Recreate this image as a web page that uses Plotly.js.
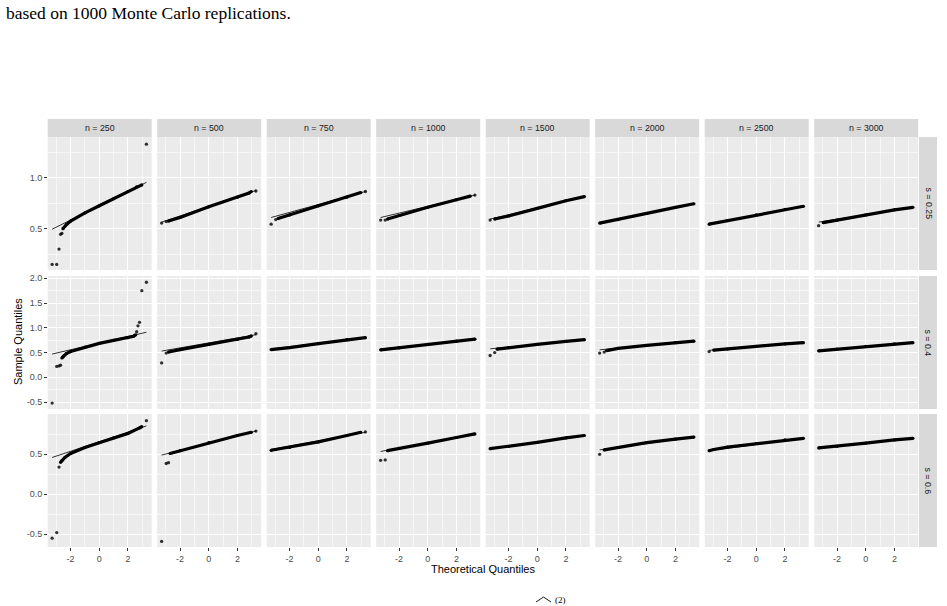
<!DOCTYPE html>
<html>
<head>
<meta charset="utf-8">
<script src="https://cdn.plot.ly/plotly-3.0.1.min.js"></script>
<style>
  html, body { margin: 0; padding: 0; background: #ffffff; }
  #chart { width: 947px; height: 606px; }
</style>
</head>
<body>
<div id="chart"></div>
<script>
// Facet labels
const nLabels = ['n = 250', 'n = 500', 'n = 750', 'n = 1000', 'n = 1500', 'n = 2000', 'n = 2500', 'n = 3000'];
const sLabels = ['s = 0.25', 's = 0.4', 's = 0.6'];

// Tick labels
const xTickVals = [-2, 0, 2];
const xTickText = ['-2', '0', '2'];
const yTickVals = [[0.5, 1.0], [-0.5, 0.0, 0.5, 1.0, 1.5, 2.0], [-0.5, 0.0, 0.5]];
const yTickText = [['0.5', '1.0'], ['-0.5', '0.0', '0.5', '1.0', '1.5', '2.0'], ['-0.5', '0.0', '0.5']];

// Theoretical-quantile span of the reference lines
const lineX = [-3.29, 3.29];

// s = 0.25: dense part of each Q-Q curve [theoretical, sample]
const body_s025 = [
  [[-2.54, 0.50], [-2.3, 0.54], [-2, 0.575], [-1, 0.655], [0, 0.725], [1, 0.795], [2, 0.865], [2.6, 0.91], [2.97, 0.93]],
  [[-2.81, 0.575], [-2, 0.61], [0, 0.715], [2, 0.81], [2.81, 0.85], [2.97, 0.865]],
  [[-2.81, 0.60], [-2, 0.635], [0, 0.725], [2, 0.81], [2.97, 0.855]],
  [[-2.81, 0.595], [-2, 0.63], [0, 0.71], [2, 0.785], [2.97, 0.82]],
  [[-2.97, 0.595], [-2, 0.625], [0, 0.70], [2, 0.775], [3.29, 0.815]],
  [[-3.29, 0.555], [-2, 0.59], [0, 0.65], [2, 0.71], [3.29, 0.745]],
  [[-3.29, 0.545], [-2, 0.58], [0, 0.635], [2, 0.69], [3.29, 0.72]],
  [[-2.97, 0.56], [-2, 0.585], [0, 0.635], [2, 0.685], [3.29, 0.71]]
];
// s = 0.25: isolated extreme quantiles
const tail_s025 = [
  [[-3.29, 0.15], [-2.97, 0.15], [-2.81, 0.30], [-2.70, 0.445], [-2.61, 0.455], [3.29, 1.33]],
  [[-3.29, 0.555], [-2.97, 0.57], [3.29, 0.87]],
  [[-3.29, 0.545], [-2.97, 0.59], [3.29, 0.865]],
  [[-3.29, 0.585], [-2.97, 0.585], [3.29, 0.83]],
  [[-3.29, 0.585]],
  [],
  [],
  [[-3.29, 0.53]]
];
// s = 0.25: reference line values at lineX
const line_s025 = [
  [0.495, 0.955], [0.565, 0.875], [0.61, 0.865], [0.61, 0.83],
  [0.595, 0.815], [0.555, 0.745], [0.545, 0.72], [0.565, 0.71]
];

// s = 0.4
const body_s04 = [
  [[-2.61, 0.39], [-2.5, 0.43], [-2.3, 0.48], [-2, 0.52], [-1, 0.61], [0, 0.685], [1, 0.745], [2, 0.80], [2.4, 0.83], [2.54, 0.86]],
  [[-2.81, 0.51], [-2, 0.56], [0, 0.665], [2, 0.765], [2.81, 0.815], [2.97, 0.835]],
  [[-3.29, 0.56], [-2, 0.60], [0, 0.68], [2, 0.76], [3.29, 0.80]],
  [[-3.29, 0.555], [-2, 0.595], [0, 0.665], [2, 0.73], [3.29, 0.77]],
  [[-2.81, 0.57], [-2, 0.60], [0, 0.665], [2, 0.725], [3.29, 0.76]],
  [[-2.81, 0.54], [-2, 0.585], [0, 0.645], [2, 0.70], [3.29, 0.73]],
  [[-2.97, 0.55], [-2, 0.57], [0, 0.625], [2, 0.675], [3.29, 0.70]],
  [[-3.29, 0.535], [-2, 0.57], [0, 0.625], [2, 0.675], [3.29, 0.70]]
];
const tail_s04 = [
  [[-3.29, -0.52], [-2.97, 0.22], [-2.81, 0.23], [-2.70, 0.245], [2.61, 0.92], [2.70, 1.04], [2.81, 1.11], [2.97, 1.75], [3.29, 1.92]],
  [[-3.29, 0.29], [-2.97, 0.49], [3.29, 0.88]],
  [],
  [],
  [[-3.29, 0.44], [-2.97, 0.50]],
  [[-3.29, 0.49], [-2.97, 0.51]],
  [[-3.29, 0.52]],
  []
];
const line_s04 = [
  [0.47, 0.91], [0.53, 0.86], [0.575, 0.80], [0.57, 0.77],
  [0.575, 0.76], [0.555, 0.735], [0.545, 0.705], [0.545, 0.70]
];

// s = 0.6
const body_s06 = [
  [[-2.70, 0.40], [-2.61, 0.42], [-2.4, 0.46], [-2, 0.51], [-1, 0.585], [0, 0.645], [1, 0.705], [2, 0.76], [2.81, 0.83], [2.97, 0.845]],
  [[-2.70, 0.51], [-2, 0.545], [0, 0.645], [2, 0.735], [2.97, 0.775]],
  [[-3.29, 0.55], [-2.97, 0.56], [-2, 0.585], [0, 0.655], [2, 0.735], [2.97, 0.775]],
  [[-2.81, 0.545], [-2, 0.575], [0, 0.64], [2, 0.71], [3.29, 0.755]],
  [[-3.29, 0.57], [-2, 0.60], [0, 0.65], [2, 0.705], [3.29, 0.735]],
  [[-2.97, 0.555], [-2, 0.585], [0, 0.645], [2, 0.69], [3.29, 0.715]],
  [[-3.29, 0.545], [-2.97, 0.56], [-2, 0.59], [0, 0.635], [2, 0.68], [3.29, 0.70]],
  [[-3.29, 0.58], [-2, 0.60], [0, 0.64], [2, 0.68], [3.29, 0.70]]
];
const tail_s06 = [
  [[-3.29, -0.55], [-2.97, -0.48], [-2.81, 0.34], [3.29, 0.92]],
  [[-3.29, -0.59], [-2.97, 0.385], [-2.81, 0.395], [3.29, 0.79]],
  [[3.29, 0.78]],
  [[-3.29, 0.425], [-2.97, 0.43]],
  [],
  [[-3.29, 0.50]],
  [],
  []
];
const line_s06 = [
  [0.46, 0.855], [0.49, 0.79], [0.56, 0.775], [0.535, 0.755],
  [0.57, 0.735], [0.555, 0.715], [0.545, 0.70], [0.58, 0.70]
];

// Y-axis range of each row of panels
const yRanges = [[0.095, 1.40], [-0.64, 2.046], [-0.66, 1.004]];

const rows = [
  { body: body_s025, tail: tail_s025, line: line_s025 },
  { body: body_s04, tail: tail_s04, line: line_s04 },
  { body: body_s06, tail: tail_s06, line: line_s06 }
];

// ---- geometry (pixels of the 947 x 606 page) ----
const W = 947, H = 606;
const fx = v => v / W;
const fy = v => 1 - v / H;
const colLeft = c => 47.7 + 109.5 * c;
const colW = 104;
const rowBox = [[137, 270], [276, 409], [414, 547]];
const stripTop = [119, 137];
const stripRight = [919, 937];

const sansFont = 'Liberation Sans, Arial, Helvetica, sans-serif';
const traces = [];
const layout = {
  width: W, height: H,
  margin: { l: 0, r: 0, t: 0, b: 0 },
  paper_bgcolor: '#ffffff',
  plot_bgcolor: '#EBEBEB',
  showlegend: false,
  font: { family: sansFont, color: '#4D4D4D', size: 9 },
  shapes: [],
  annotations: []
};

rows.forEach((row, r) => {
  for (let c = 0; c < 8; c++) {
    const i = r * 8 + c + 1;
    const sfx = i === 1 ? '' : String(i);
    const xa = 'x' + sfx, ya = 'y' + sfx;

    const b = row.body[c];
    traces.push({
      type: 'scatter', mode: 'lines+markers', xaxis: xa, yaxis: ya,
      x: b.map(p => p[0]), y: b.map(p => p[1]),
      line: { color: '#000000', width: 3.2 },
      marker: { color: '#000000', size: 3.2 },
      hoverinfo: 'skip'
    });
    const t = row.tail[c];
    if (t.length) {
      traces.push({
        type: 'scatter', mode: 'markers', xaxis: xa, yaxis: ya,
        x: t.map(p => p[0]), y: t.map(p => p[1]),
        marker: { color: '#000000', size: 3.3, opacity: 0.8 },
        hoverinfo: 'skip'
      });
    }
    traces.push({
      type: 'scatter', mode: 'lines', xaxis: xa, yaxis: ya,
      x: lineX, y: row.line[c],
      line: { color: '#000000', width: 0.8 },
      hoverinfo: 'skip'
    });

    const left = colLeft(c);
    const [top, bottom] = rowBox[r];
    const bottomRow = r === rows.length - 1;
    const leftCol = c === 0;

    layout['xaxis' + sfx] = {
      domain: [fx(left), fx(left + colW)],
      anchor: ya,
      range: [-3.6, 3.66],
      tickmode: 'array', tickvals: xTickVals, ticktext: xTickText,
      showticklabels: bottomRow,
      ticks: bottomRow ? 'outside' : '',
      ticklen: 2.7, tickwidth: 1.07, tickcolor: '#333333',
      tickfont: { family: sansFont, size: 9, color: '#4D4D4D' },
      showgrid: true, gridcolor: '#FFFFFF', gridwidth: 1.07,
      minor: { dtick: 1, tick0: 1, showgrid: true, gridcolor: '#FFFFFF', gridwidth: 0.53, ticks: '' },
      zeroline: false, showline: false, fixedrange: true
    };
    layout['yaxis' + sfx] = {
      domain: [fy(bottom), fy(top)],
      anchor: xa,
      range: yRanges[r],
      tickmode: 'array', tickvals: yTickVals[r], ticktext: yTickText[r],
      showticklabels: leftCol,
      ticks: leftCol ? 'outside' : '',
      ticklen: 2.7, tickwidth: 1.07, tickcolor: '#333333',
      tickfont: { family: sansFont, size: 9, color: '#4D4D4D' },
      showgrid: true, gridcolor: '#FFFFFF', gridwidth: 1.07,
      minor: { dtick: 0.5, tick0: 0.25, showgrid: true, gridcolor: '#FFFFFF', gridwidth: 0.53, ticks: '' },
      zeroline: false, showline: false, fixedrange: true
    };
  }
});

// Column strips (n) along the top
nLabels.forEach((lab, c) => {
  const left = colLeft(c);
  layout.shapes.push({
    type: 'rect', xref: 'paper', yref: 'paper', layer: 'below',
    x0: fx(left), x1: fx(left + colW), y0: fy(stripTop[1]), y1: fy(stripTop[0]),
    fillcolor: '#D9D9D9', line: { width: 0 }
  });
  layout.annotations.push({
    xref: 'paper', yref: 'paper', showarrow: false,
    x: fx(left + colW / 2), y: fy((stripTop[0] + stripTop[1]) / 2),
    xanchor: 'center', yanchor: 'middle',
    text: lab, font: { family: sansFont, size: 8.8, color: '#1A1A1A' }
  });
});

// Row strips (s) along the right
sLabels.forEach((lab, r) => {
  const [top, bottom] = rowBox[r];
  layout.shapes.push({
    type: 'rect', xref: 'paper', yref: 'paper', layer: 'below',
    x0: fx(stripRight[0]), x1: fx(stripRight[1]), y0: fy(bottom), y1: fy(top),
    fillcolor: '#D9D9D9', line: { width: 0 }
  });
  layout.annotations.push({
    xref: 'paper', yref: 'paper', showarrow: false,
    x: fx((stripRight[0] + stripRight[1]) / 2), y: fy((top + bottom) / 2),
    xanchor: 'center', yanchor: 'middle', textangle: 90,
    text: lab, font: { family: sansFont, size: 8.8, color: '#1A1A1A' }
  });
});

// Axis titles
layout.annotations.push({
  xref: 'paper', yref: 'paper', showarrow: false,
  x: fx(483), y: fy(569), xanchor: 'center', yanchor: 'middle',
  text: 'Theoretical Quantiles', font: { family: sansFont, size: 11, color: '#000000' }
});
layout.annotations.push({
  xref: 'paper', yref: 'paper', showarrow: false,
  x: fx(18), y: fy(342), xanchor: 'center', yanchor: 'middle', textangle: -90,
  text: 'Sample Quantiles', font: { family: sansFont, size: 11, color: '#000000' }
});

// Surrounding caption text
const serifFont = 'Liberation Serif, Times New Roman, serif';
layout.annotations.push({
  xref: 'paper', yref: 'paper', showarrow: false,
  x: fx(4), y: fy(13), xanchor: 'left', yanchor: 'middle',
  text: 'based on 1000 Monte Carlo replications.', font: { family: serifFont, size: 17.5, color: '#000000' }
});
layout.annotations.push({
  xref: 'paper', yref: 'paper', showarrow: false,
  x: fx(560), y: fy(600), xanchor: 'center', yanchor: 'middle',
  text: '(2)', font: { family: serifFont, size: 9, color: '#000000' }
});
layout.shapes.push({
  type: 'path', xref: 'paper', yref: 'paper', layer: 'above',
  path: `M ${fx(536)} ${fy(602)} L ${fx(543.5)} ${fy(597)} L ${fx(551)} ${fy(602)}`,
  line: { color: '#000000', width: 0.9 }
});

Plotly.newPlot('chart', traces, layout, { displayModeBar: false, staticPlot: true });
</script>
</body>
</html>
